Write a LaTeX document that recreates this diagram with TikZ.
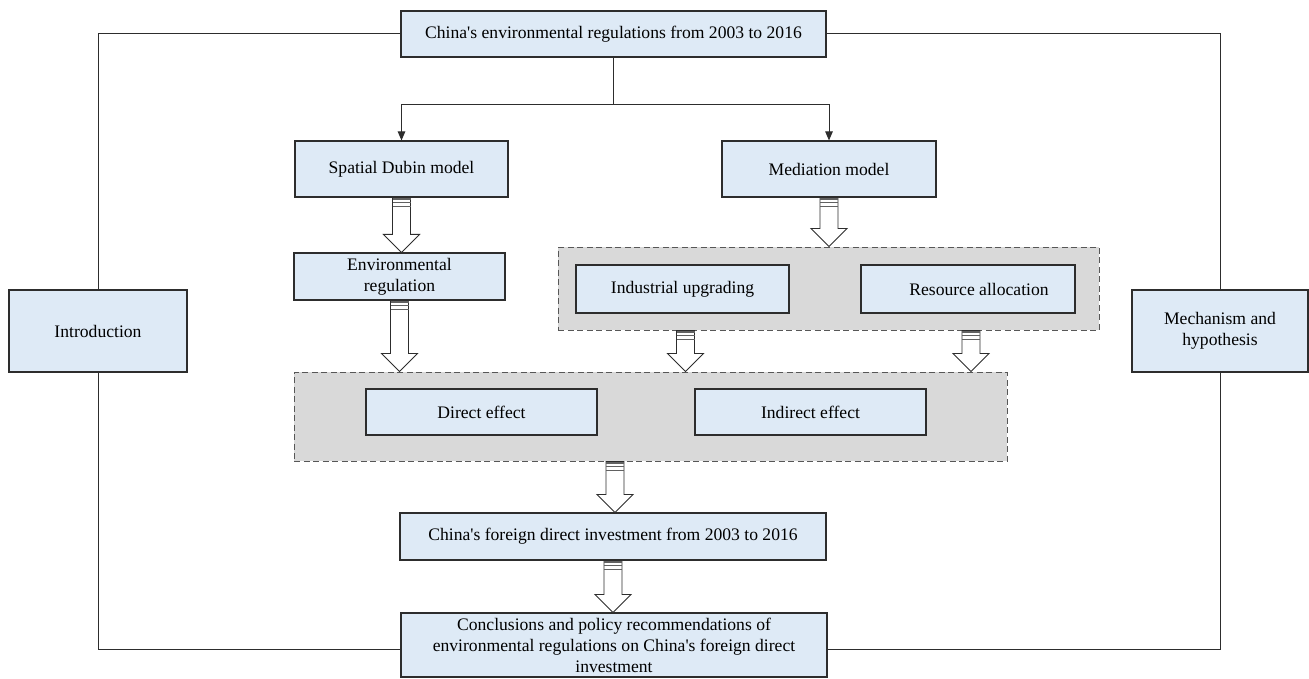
\documentclass[tikz,border=0pt]{standalone}
\usepackage{fontspec}
\setmainfont{Liberation Serif}
\usetikzlibrary{arrows.meta,calc}
\definecolor{boxfill}{RGB}{222,234,246}
\definecolor{grpfill}{RGB}{217,217,217}
\definecolor{edge}{RGB}{45,45,45}
\tikzset{
  box/.style={draw=edge, line width=1.1pt, fill=boxfill, inner sep=2pt, align=center,
    font=\fontsize{17.6}{21}\selectfont},
  grp/.style={draw=edge!80, line width=1pt, fill=grpfill, dash pattern=on 6pt off 3.5pt},
  conn/.style={draw=edge, line width=1pt},
  tipline/.style={conn, -{Triangle[length=9pt,width=7.5pt]}},
  blk/.style={draw=edge, line width=0.9pt, fill=white, line join=miter},
}
\newcommand\blkarrow[2]{%
  \draw[blk] let \p1=(#1), \p2=(#2) in
    (\x1-9pt,\y1) -- (\x1-9pt,\y2+18pt) -- (\x1-18pt,\y2+18pt) -- (\x1,\y2)
    -- (\x1+18pt,\y2+18pt) -- (\x1+9pt,\y2+18pt) -- (\x1+9pt,\y1) -- cycle;
  \fill[edge!75] let \p1=(#1) in (\x1-9pt,\y1) rectangle (\x1+9pt,\y1-2.5pt);
  \draw[edge!75, line width=0.8pt] let \p1=(#1) in (\x1-9pt,\y1-5pt) -- (\x1+9pt,\y1-5pt);
  \draw[edge!75, line width=0.8pt] let \p1=(#1) in (\x1-9pt,\y1-8.5pt) -- (\x1+9pt,\y1-8.5pt);
}
\newcommand\ap{\textquotesingle}
\begin{document}
\begin{tikzpicture}[x=1pt,y=-1pt]
\useasboundingbox (0,0) rectangle (1309,679);
% group backgrounds
\node[grp, minimum width=541pt, minimum height=83pt] (g1) at (828.5,288.5) {};
\node[grp, minimum width=713pt, minimum height=89pt] (g2) at (650.5,416.5) {};
% boxes
\node[box, minimum width=425pt, minimum height=46pt] (top) at (613.5,34) {China\ap s environmental regulations from 2003 to 2016};
\node[box, minimum width=213pt, minimum height=56pt] (sdm) at (401.5,169) {Spatial Dubin model};
\node[box, minimum width=214pt, minimum height=56pt] (med) at (829,169) {Mediation model};
\node[box, minimum width=211pt, minimum height=47pt] (env) at (399.5,276.5) {Environmental\\regulation};
\node[box, minimum width=213pt, minimum height=48pt] (ind) at (682.5,289) {Industrial upgrading};
\node[box, minimum width=214pt, minimum height=48pt] (res) at (968,289) {\hspace*{22pt}Resource allocation};
\node[box, minimum width=231pt, minimum height=46pt] (dir) at (481.5,412) {Direct effect};
\node[box, minimum width=231pt, minimum height=46pt] (indir) at (810.5,412) {Indirect effect};
\node[box, minimum width=426pt, minimum height=47pt] (fdi) at (613,536.5) {China\ap s foreign direct investment from 2003 to 2016};
\node[box, minimum width=426pt, minimum height=64pt] (con) at (614,645) {Conclusions and policy recommendations of\\environmental regulations on China\ap s foreign direct\\investment};
\node[box, minimum width=178pt, minimum height=82pt] (intro) at (98,331) {Introduction};
\node[box, minimum width=176pt, minimum height=82pt] (mech) at (1220,331) {Mechanism and\\hypothesis};
% frame
\draw[conn] (top.west) -| (intro.north);
\draw[conn] (intro.south) |- ([yshift=-4pt]con.west);
\draw[conn] (top.east) -| (mech.north);
\draw[conn] (mech.south) |- ([yshift=-4pt]con.east);
% split
\coordinate (split) at ($(top.south)+(0,47)$);
\draw[conn] (top.south) -- (split);
\draw[tipline] (split) -| (sdm.north);
\draw[tipline] (split) -| (med.north);
% block arrows
\blkarrow{sdm.south}{sdm.south |- env.north}
\blkarrow{env.south}{env.south |- g2.north}
\blkarrow{med.south}{med.south |- g1.north}
\coordinate (ia) at ($(ind.south |- g1.south)+(3,0)$);
\blkarrow{ia}{ia |- g2.north}
\coordinate (ra) at ($(res.south |- g1.south)+(3,0)$);
\blkarrow{ra}{ra |- g2.north}
\coordinate (fa) at ($(fdi.north |- g2.south)+(2,0)$);
\blkarrow{fa}{fa |- fdi.north}
\blkarrow{fdi.south}{con.north}
\end{tikzpicture}
\end{document}
